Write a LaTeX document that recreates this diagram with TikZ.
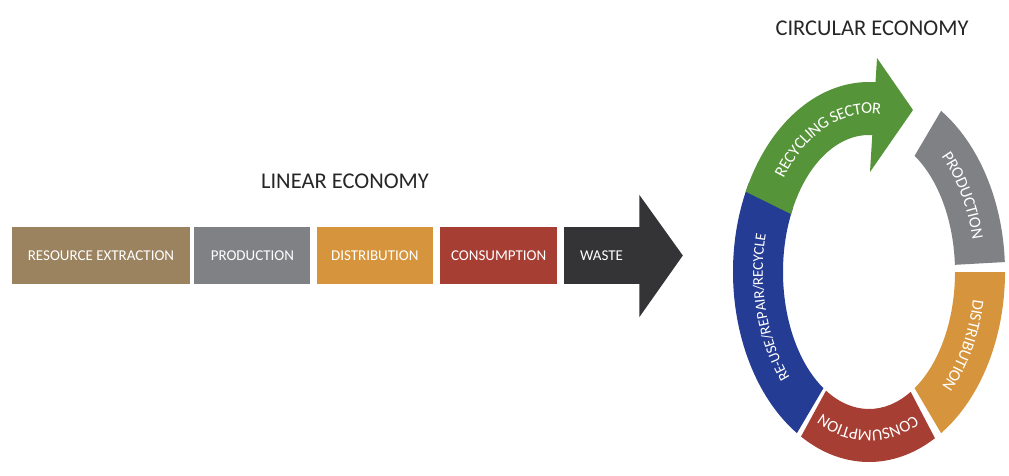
\documentclass[tikz,border=0pt]{standalone}
\usepackage{fontspec}
\setmainfont{Carlito}
\usetikzlibrary{decorations.text,positioning}

\definecolor{resbrown}{RGB}{155,131,96}
\definecolor{prodgray}{RGB}{128,129,132}
\definecolor{distorange}{RGB}{214,149,60}
\definecolor{consred}{RGB}{167,62,52}
\definecolor{wasteblack}{RGB}{52,52,54}
\definecolor{recgreen}{RGB}{86,148,58}
\definecolor{reuseblue}{RGB}{36,60,148}

\newcommand{\ringpart}[3]{%
  \fill[#1] ({136*cos(#2)},{190*sin(#2)}) arc[start angle=#2, end angle=#3, x radius=136, y radius=190]
    -- ({86*cos(#3)},{137*sin(#3)}) arc[start angle=#3, end angle=#2, x radius=86, y radius=137] -- cycle;}
\newcommand{\ringlabel}[4][16.5]{%
  \path[decorate, decoration={text along path, text align=center, raise=-0.32*#1pt,
    text={|\color{white}\fontsize{#1}{#1}\selectfont|#4}}]
    ({111*cos(#2)},{163.5*sin(#2)}) arc[start angle=#2, end angle=#3, x radius=111, y radius=163.5];}

\begin{document}
\begin{tikzpicture}[
  x=1pt, y=1pt,
  stage/.style={minimum height=57pt, inner sep=0pt, text=white, font=\fontsize{15}{15}\selectfont},
  title/.style={font=\fontsize{22.5}{22.5}\selectfont, text=black!85}
  ]
\useasboundingbox (0,0) rectangle (1009,475);

\node[title] (lin) at (345,294) {LINEAR ECONOMY};
\node[title] (circ) at (872,447) {CIRCULAR ECONOMY};

\node[stage, fill=resbrown, minimum width=178pt] (res) at (101,219.5) {RESOURCE EXTRACTION};
\node[stage, fill=prodgray, minimum width=116pt, right=4pt of res] (prod) {PRODUCTION};
\node[stage, fill=distorange, minimum width=116pt, right=6pt of prod] (dist) {DISTRIBUTION};
\node[stage, fill=consred, minimum width=117pt, right=7pt of dist] (cons) {CONSUMPTION};
\node[stage, fill=wasteblack, minimum width=76pt, right=6pt of cons] (waste) {WASTE};
\fill[wasteblack] ([xshift=-0.5pt, yshift=32pt]waste.north east) -- ([xshift=43pt]waste.east)
  -- ([xshift=-0.5pt, yshift=-33pt]waste.south east) -- cycle;

\begin{scope}[shift={(869,203)}]
  \ringpart{prodgray}{58}{3}
  \ringpart{distorange}{0}{-58}
  \ringpart{consred}{-61}{-120}
  \ringpart{reuseblue}{-122}{-208}
  \ringpart{recgreen}{155}{87}
  \fill[recgreen] (8,214) -- (44,162) -- (1,100) -- cycle;
  \ringlabel{150}{76}{RECYCLING SECTOR}
  \ringlabel{57}{3}{PRODUCTION}
  \ringlabel{0}{-58}{DISTRIBUTION}
  \ringlabel{-61}{-120}{CONSUMPTION}
  \ringlabel[15]{-122}{-208}{RE-USE/REPAIR/RECYCLE}
\end{scope}
\end{tikzpicture}
\end{document}
